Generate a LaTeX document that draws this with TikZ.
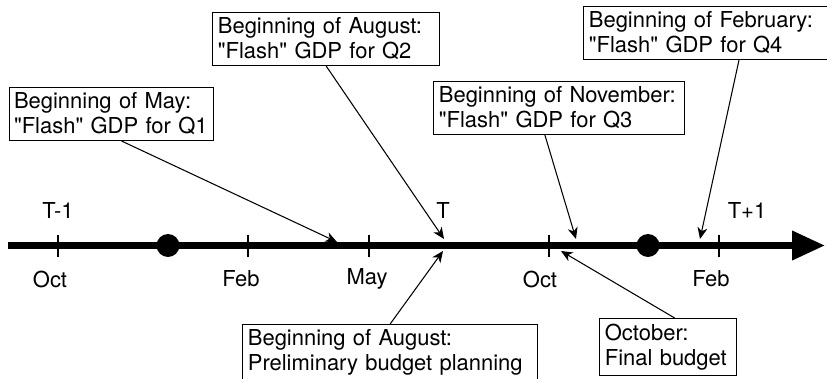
\documentclass[tikz,border=0pt]{standalone}
\usepackage{fontspec}
\setmainfont{TeX Gyre Heros}
\usetikzlibrary{arrows.meta,positioning}

\newcommand{\qq}{\textquotedbl}

\begin{document}
\begin{tikzpicture}
    \tikzset{>={Stealth[length=2.3mm,width=2mm,inset=0.7mm]}}
    \tikzset{event/.style={draw,line width=0.7pt,align=left,anchor=north west,inner xsep=3pt,inner ysep=3pt}}
    \tikzset{tickmark/.style={line width=1.1pt}}
  \fontsize{12.5}{14.2}\selectfont
  \useasboundingbox (0,0) rectangle (16.54,7.56);
  \clip (0,0) rectangle (16.54,7.56);
  %\draw[step=1cm,gray,very thin] (0,0) grid (17,8);

  % time axis
  \coordinate (L) at (0.16,2.65);
  \coordinate (R) at (16.5,2.65);
  \draw [-{Triangle[length=6.6mm,width=5.6mm]},line width=4pt] (L) -- (R);

  \coordinate (Oct1) at (1.16,2.65);
  \coordinate (Feb1) at (4.96,2.65);
  \coordinate (May) at (7.38,2.65);
  \coordinate (Oct2) at (10.98,2.65);
  \coordinate (Feb2) at (14.38,2.65);
  \foreach \m in {Oct1,Feb1,May,Oct2,Feb2}
    \draw [tickmark] ([yshift=2.2mm]\m) -- ([yshift=-2.2mm]\m);

  \fill (3.36,2.65) circle (0.23);
  \fill (12.96,2.65) circle (0.23);

\node (TM) at (1.16,3.36) {T-1};
\node (T) at (8.86,3.36) {T};
\node (TP) at (14.94,3.36) {T+1};

\node (MOct1) at (1.0,1.98) {Oct};
\node (MFeb1) at (4.82,1.98) {Feb};
\node (MMay) at (7.34,1.98) {May};
\node (MOct2) at (10.8,1.98) {Oct};
\node (MFeb2) at (14.22,1.98) {Feb};

  % boxes above and below the axis
\node[event,text width=3.9cm,inner xsep=2.5pt] (Q1) at (0.18,5.82) {Beginning of May:\\\qq Flash\qq{} GDP for Q1};
\node[event,text width=4.33cm] (Q2) at (4.24,7.32) {Beginning of August:\\\qq Flash\qq{} GDP for Q2};
\node[event,text width=4.8cm] (Q3) at (8.66,5.94) {Beginning of November:\\\qq Flash\qq{} GDP for Q3};
\node[event,text width=4.9cm] (Q4) at (11.66,7.44) {Beginning of February:\\\qq Flash\qq{} GDP for Q4};
\node[event,text width=5.69cm] (PB) at (4.84,1.08) {Beginning of August:\\Preliminary budget planning};
\node[event,text width=2.53cm] (FB) at (11.98,1.2) {October:\\Final budget};

\coordinate (Q1T) at (6.74,2.72);
\coordinate (Q2T) at (8.88,2.78);
\coordinate (Q3T) at (11.52,2.78);
\coordinate (Q4T) at (14.0,2.78);
\coordinate (PBT) at (8.86,2.54);
\coordinate (FBT) at (11.22,2.54);

\draw [->,line width=0.6pt] ([xshift=2mm]Q1.south) -- (Q1T);
\draw [->,line width=0.6pt] (Q2.south) -- (Q2T);
\draw [->,line width=0.6pt] ([xshift=-2.8mm]Q3.south) -- (Q3T);
\draw [->,line width=0.6pt] ([xshift=3.12cm]Q4.south west) -- (Q4T);
\draw [->,line width=0.6pt] (PB.north) -- (PBT);
\draw [->,line width=0.6pt] ([xshift=1.3mm]FB.north) -- (FBT);

\end{tikzpicture}
\end{document}
